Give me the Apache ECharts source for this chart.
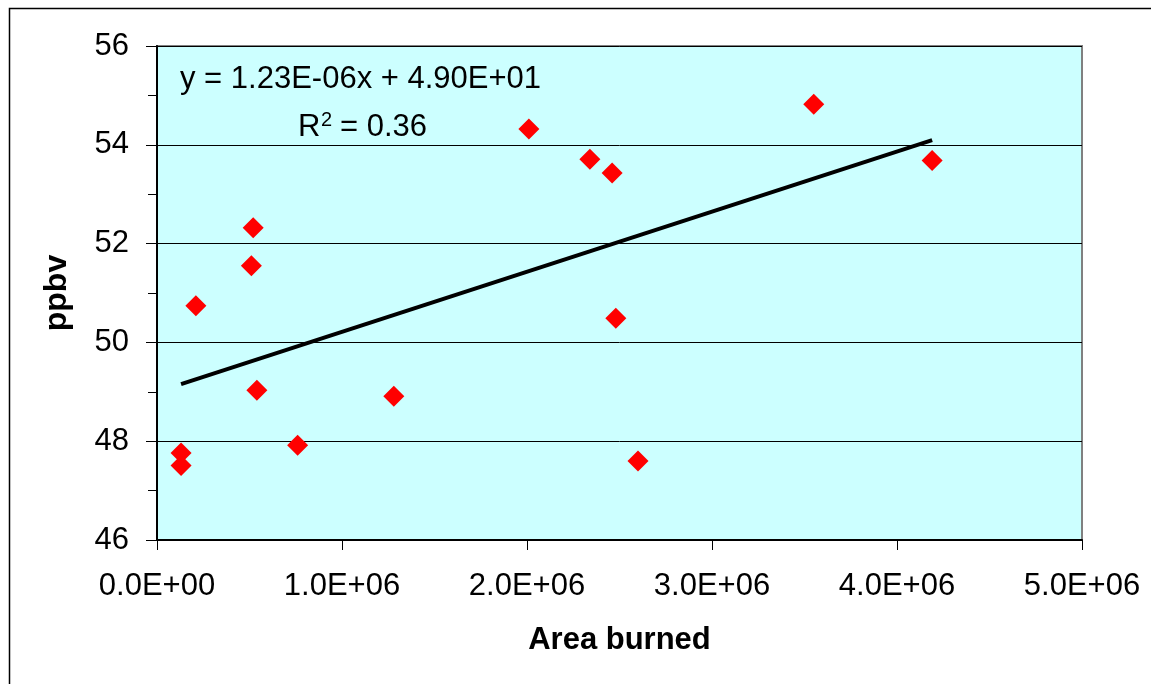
<!DOCTYPE html>
<html>
<head>
<meta charset="utf-8">
<script src="https://cdn.jsdelivr.net/npm/echarts@6/dist/echarts.min.js"></script>
<style>
html,body{margin:0;padding:0;background:#fff;}
#chart{width:1151px;height:684px;}
</style>
</head>
<body>
<div id="chart"></div>
<script>
// Data
var areaBurned = [130000, 130000, 210000, 510000, 520000, 540000, 760000, 1280000, 2010000, 2340000, 2460000, 2480000, 2600000, 3550000, 4190000];
var ppbv = [47.76, 47.51, 50.74, 51.55, 52.32, 49.03, 47.92, 48.91, 54.32, 53.71, 53.43, 50.49, 47.60, 54.82, 53.68];
var xTickLabels = ['0.0E+00', '1.0E+06', '2.0E+06', '3.0E+06', '4.0E+06', '5.0E+06'];
var yTickLabels = ['46', '48', '50', '52', '54', '56'];
var equationText = 'y = 1.23E-06x + 4.90E+01';
var r2Value = '= 0.36';
var xTitle = 'Area burned';
var yTitle = 'ppbv';

// least-squares trendline from the data
var n = areaBurned.length, sx = 0, sy = 0, sxx = 0, sxy = 0;
for (var i = 0; i < n; i++) { sx += areaBurned[i]; sy += ppbv[i]; sxx += areaBurned[i]*areaBurned[i]; sxy += areaBurned[i]*ppbv[i]; }
var slope = (n*sxy - sx*sy) / (n*sxx - sx*sx);
var intercept = (sy - slope*sx) / n;
var xMin = Math.min.apply(null, areaBurned), xMax = Math.max.apply(null, areaBurned);
var trend = [[xMin, intercept + slope*xMin], [xMax, intercept + slope*xMax]];

var points = areaBurned.map(function (x, i) { return [x, ppbv[i]]; });
var FONT = "'Liberation Sans', Arial, sans-serif";

var chart = echarts.init(document.getElementById('chart'), null, {renderer: 'canvas'});
chart.setOption({
  backgroundColor: '#ffffff',
  animation: false,
  grid: {
    left: 157, top: 46, right: 69, bottom: 144,
    show: true, backgroundColor: '#CCFFFF', borderColor: '#808080', borderWidth: 2
  },
  xAxis: {
    type: 'value', min: 0, max: 5000000, interval: 1000000,
    name: xTitle, nameLocation: 'middle', nameGap: 85,
    nameTextStyle: {fontFamily: FONT, fontSize: 31, fontWeight: 'bold', color: '#000'},
    axisLine: {show: true, lineStyle: {color: '#000', width: 2}},
    axisTick: {show: true, inside: false, length: 10, lineStyle: {color: '#000', width: 1}},
    axisLabel: {
      margin: 31, fontFamily: FONT, fontSize: 31, color: '#000',
      formatter: function (v) { return xTickLabels[Math.round(v / 1000000)]; }
    },
    splitLine: {show: false}
  },
  yAxis: {
    type: 'value', min: 46, max: 56, interval: 2,
    name: yTitle, nameLocation: 'middle', nameGap: 84,
    nameTextStyle: {fontFamily: FONT, fontSize: 32, fontWeight: 'bold', color: '#000'},
    axisLine: {show: true, lineStyle: {color: '#000', width: 2}},
    axisTick: {show: true, inside: false, length: 11, lineStyle: {color: '#000', width: 1}},
    minorTick: {show: true, splitNumber: 2, length: 9, lineStyle: {color: '#000', width: 1}},
    axisLabel: {
      margin: 28, fontFamily: FONT, fontSize: 31, color: '#000',
      formatter: function (v) { return yTickLabels[Math.round((v - 46) / 2)]; }
    },
    splitLine: {show: true, lineStyle: {color: '#000', width: 1}}
  },
  series: [
    {
      type: 'line', data: trend, symbol: 'none', silent: true,
      lineStyle: {color: '#000', width: 4}, z: 2
    },
    {
      type: 'scatter', data: points, symbol: 'diamond', symbolSize: 21,
      itemStyle: {color: '#FF0000', opacity: 1}, z: 3
    }
  ],
  graphic: [
    {type: 'rect', shape: {x: 9.5, y: 8.5, width: 1300, height: 800},
     style: {fill: 'none', stroke: '#000', lineWidth: 1.5}, z: 100, silent: true},
    {type: 'text', x: 180, y: 79, z: 100,
     style: {text: equationText, font: '31px ' + FONT, fill: '#000', textAlign: 'left', textVerticalAlign: 'middle', align: 'left', verticalAlign: 'middle'}},
    {type: 'text', x: 298, y: 127, z: 100,
     style: {text: 'R', font: '31px ' + FONT, fill: '#000', textAlign: 'left', textVerticalAlign: 'middle', align: 'left', verticalAlign: 'middle'}},
    {type: 'text', x: 321, y: 120, z: 100,
     style: {text: '2', font: '20px ' + FONT, fill: '#000', textAlign: 'left', textVerticalAlign: 'middle', align: 'left', verticalAlign: 'middle'}},
    {type: 'text', x: 340, y: 127, z: 100,
     style: {text: r2Value, font: '31px ' + FONT, fill: '#000', textAlign: 'left', textVerticalAlign: 'middle', align: 'left', verticalAlign: 'middle'}}
  ]
});
</script>
</body>
</html>
